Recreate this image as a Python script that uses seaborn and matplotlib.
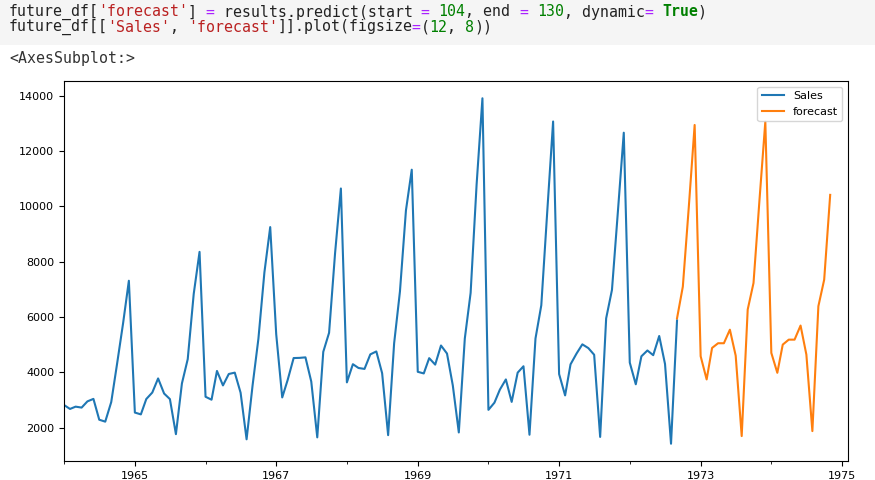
import matplotlib
matplotlib.use("Agg")
import matplotlib.pyplot as plt
import matplotlib.dates as mdates
from matplotlib.patches import Rectangle
import numpy as np
import pandas as pd
import seaborn as sns

# monthly champagne sales, 1964-01 .. 1972-09
sales = [2815, 2672, 2755, 2721, 2946, 3036, 2282, 2212, 2922, 4301, 5764, 7312,
         2541, 2475, 3031, 3266, 3776, 3230, 3028, 1759, 3595, 4474, 6838, 8357,
         3113, 3006, 4047, 3523, 3937, 3986, 3260, 1573, 3528, 5211, 7614, 9254,
         5375, 3088, 3718, 4514, 4520, 4539, 3663, 1643, 4739, 5428, 8314, 10651,
         3633, 4292, 4154, 4121, 4647, 4753, 3965, 1723, 5048, 6922, 9858, 11331,
         4016, 3957, 4510, 4276, 4968, 4677, 3523, 1821, 5222, 6872, 10803, 13916,
         2639, 2899, 3370, 3740, 2927, 3986, 4217, 1738, 5221, 6424, 9842, 13076,
         3934, 3162, 4286, 4676, 5010, 4874, 4633, 1659, 5951, 6981, 9851, 12670,
         4348, 3564, 4577, 4788, 4618, 5312, 4298, 1413, 5877]
sales_start = "1964-01-01"

# dynamic forecast, 1972-09 .. 1974-11
forecast = [5950, 7100, 10000, 12950,
            4580, 3740, 4880, 5050, 5050, 5540, 4600, 1690, 6270, 7230, 10250, 13070,
            4700, 3980, 5000, 5180, 5180, 5690, 4640, 1870, 6390, 7350, 10420]
forecast_start = "1972-09-01"

series_names = ["Sales", "forecast"]
tick_years = [1965, 1967, 1969, 1971, 1973, 1975]
minor_years = [1964, 1966, 1968, 1970, 1972, 1974]
x_range = ["1964-01-01", "1975-02-01"]

code_lines = [
    [("future_df[", "k"), ("'forecast'", "s"), ("] ", "k"), ("=", "o"),
     (" results.predict(start ", "k"), ("=", "o"), (" ", "k"), ("104", "n"),
     (", end ", "k"), ("=", "o"), (" ", "k"), ("130", "n"), (", dynamic", "k"),
     ("=", "o"), (" ", "k"), ("True", "b"), (")", "k")],
    [("future_df[[", "k"), ("'Sales'", "s"), (", ", "k"), ("'forecast'", "s"),
     ("]].plot(figsize", "k"), ("=", "o"), ("(", "k"), ("12", "n"), (", ", "k"),
     ("8", "n"), ("))", "k")],
]
out_text = "<AxesSubplot:>"

W, H = 875, 480
fig = plt.figure(figsize=(W / 100, H / 100), dpi=100)

# notebook cell background
fig.patches.append(Rectangle((0, 1 - 45 / H), 1, 45 / H, transform=fig.transFigure,
                             facecolor="#f5f5f5", edgecolor="none", zorder=0))
colors = {"k": "#222222", "s": "#ba2121", "o": "#aa22ff", "n": "#008000", "b": "#008000"}
fs = 10.7
cw = fs * 0.602 * 100 / 72  # px per monospace char
for row, (segs, ypx) in enumerate(zip(code_lines, [12, 27])):
    col = 0
    for txt, kind in segs:
        fig.text((9 + col * cw) / W, 1 - ypx / H, txt, family="DejaVu Sans Mono",
                 fontsize=fs, color=colors[kind], va="center", ha="left",
                 fontweight="bold" if kind == "b" else "normal")
        col += len(txt)
fig.text(9 / W, 1 - 58 / H, out_text, family="DejaVu Sans Mono", fontsize=fs,
         color="#333333", va="center", ha="left")

ax = fig.add_axes([64 / W, 1 - 461 / H, (848 - 64) / W, (461 - 81) / H])

sales_dates = pd.date_range(sales_start, periods=len(sales), freq="MS")
fc_dates = pd.date_range(forecast_start, periods=len(forecast), freq="MS")
sns.lineplot(x=sales_dates, y=sales, color="#1f77b4", label=series_names[0], ax=ax, lw=1.5)
sns.lineplot(x=fc_dates, y=forecast, color="#ff7f0e", label=series_names[1], ax=ax, lw=1.5)

ax.set_xlim(pd.Timestamp(x_range[0]), pd.Timestamp(x_range[1]))
ax.xaxis.set_major_locator(plt.FixedLocator(
    [mdates.date2num(pd.Timestamp(f"{y}-01-01")) for y in tick_years]))
ax.xaxis.set_minor_locator(plt.FixedLocator(
    [mdates.date2num(pd.Timestamp(f"{y}-01-01")) for y in minor_years]))
ax.set_xticklabels([str(y) for y in tick_years])
ax.set_yticks(np.arange(2000, 14001, 2000))
ax.tick_params(labelsize=8)
ax.set_xlabel("")
ax.set_ylabel("")
ax.legend(loc="upper right", fontsize=8)

fig.savefig("out.png", dpi=100)
